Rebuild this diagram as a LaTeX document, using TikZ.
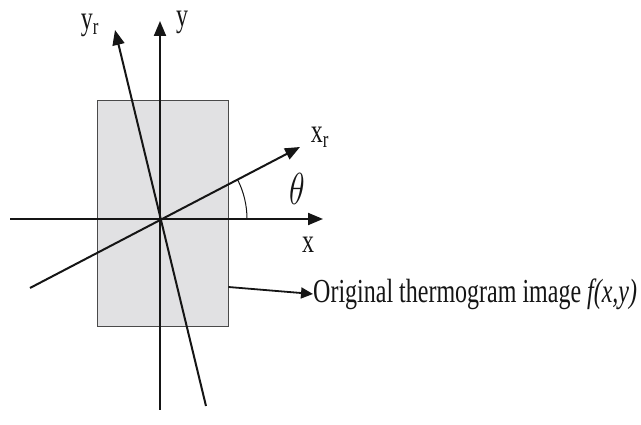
\documentclass[tikz,border=0pt]{standalone}
\usepackage{fontspec}
\setmainfont{Liberation Serif}
\definecolor{imageFill}{HTML}{E1E1E3}
\definecolor{frameGray}{HTML}{4A4A4A}
\definecolor{axisBlack}{HTML}{151515}
\usetikzlibrary{calc, positioning, arrows.meta}
\newcommand{\tallText}[1]{\scalebox{1}[1.4]{#1}}

\begin{document}
\begin{tikzpicture}[x=1pt, y=1pt,
    axis/.style={draw=axisBlack, line width=2pt, -{Triangle[length=15pt,width=12pt]}},
    pointer/.style={draw=axisBlack, line width=1.8pt, -{Triangle[length=12pt,width=11pt]}},
    axlabel/.style={inner sep=0pt, text=axisBlack, font=\fontsize{24}{24}\selectfont}]
  \useasboundingbox (0,0) rectangle (641,425);

  % thermogram image
  \node[fill=imageFill, draw=frameGray, line width=0.9pt, minimum width=131pt,
        minimum height=226pt, inner sep=0pt] (img) at (162.5,212) {};

  % axis end points
  \coordinate (origin) at (160,206);
  \coordinate (xLeft) at (10,206);
  \coordinate (xTip) at (323,206);
  \coordinate (yLow) at (160,15);
  \coordinate (yTip) at (160,404);
  \coordinate (yrLow) at (206,19);
  \coordinate (yrTip) at (115,395);
  \coordinate (xrLow) at (30,137);
  \coordinate (xrTip) at (300,278);

  % fixed and rotated axes
  \draw[axis] (xLeft) -- (xTip);
  \draw[axis] (yLow) -- (yTip);
  \draw[axis] (yrLow) -- (yrTip);
  \draw[axis] (xrLow) -- (xrTip);
  \draw[draw=axisBlack, line width=1pt] ($(origin)+(87,0)$) arc (0:27:87);

  % labels
  \node[axlabel] (xLab) at (308,180) {\tallText{x}};
  \node[axlabel] (yLab) at (182,403) {\tallText{y}};
  \node[axlabel] (xrLab) at (320,288) {\tallText{x\textsubscript{r}}};
  \node[axlabel] (yrLab) at (90,400) {\tallText{y\textsubscript{r}}};
  \node[axlabel] (thetaLab) at (297,236) {\scalebox{1.3}[1.8]{$\theta$}};
  \node[axlabel, anchor=west] (imgLab) at (313,131)
    {\tallText{Original thermogram image \textit{f(x,y)}}};

  \draw[pointer] ([yshift=-74pt]img.east) -- (imgLab.west);
\end{tikzpicture}
\end{document}
